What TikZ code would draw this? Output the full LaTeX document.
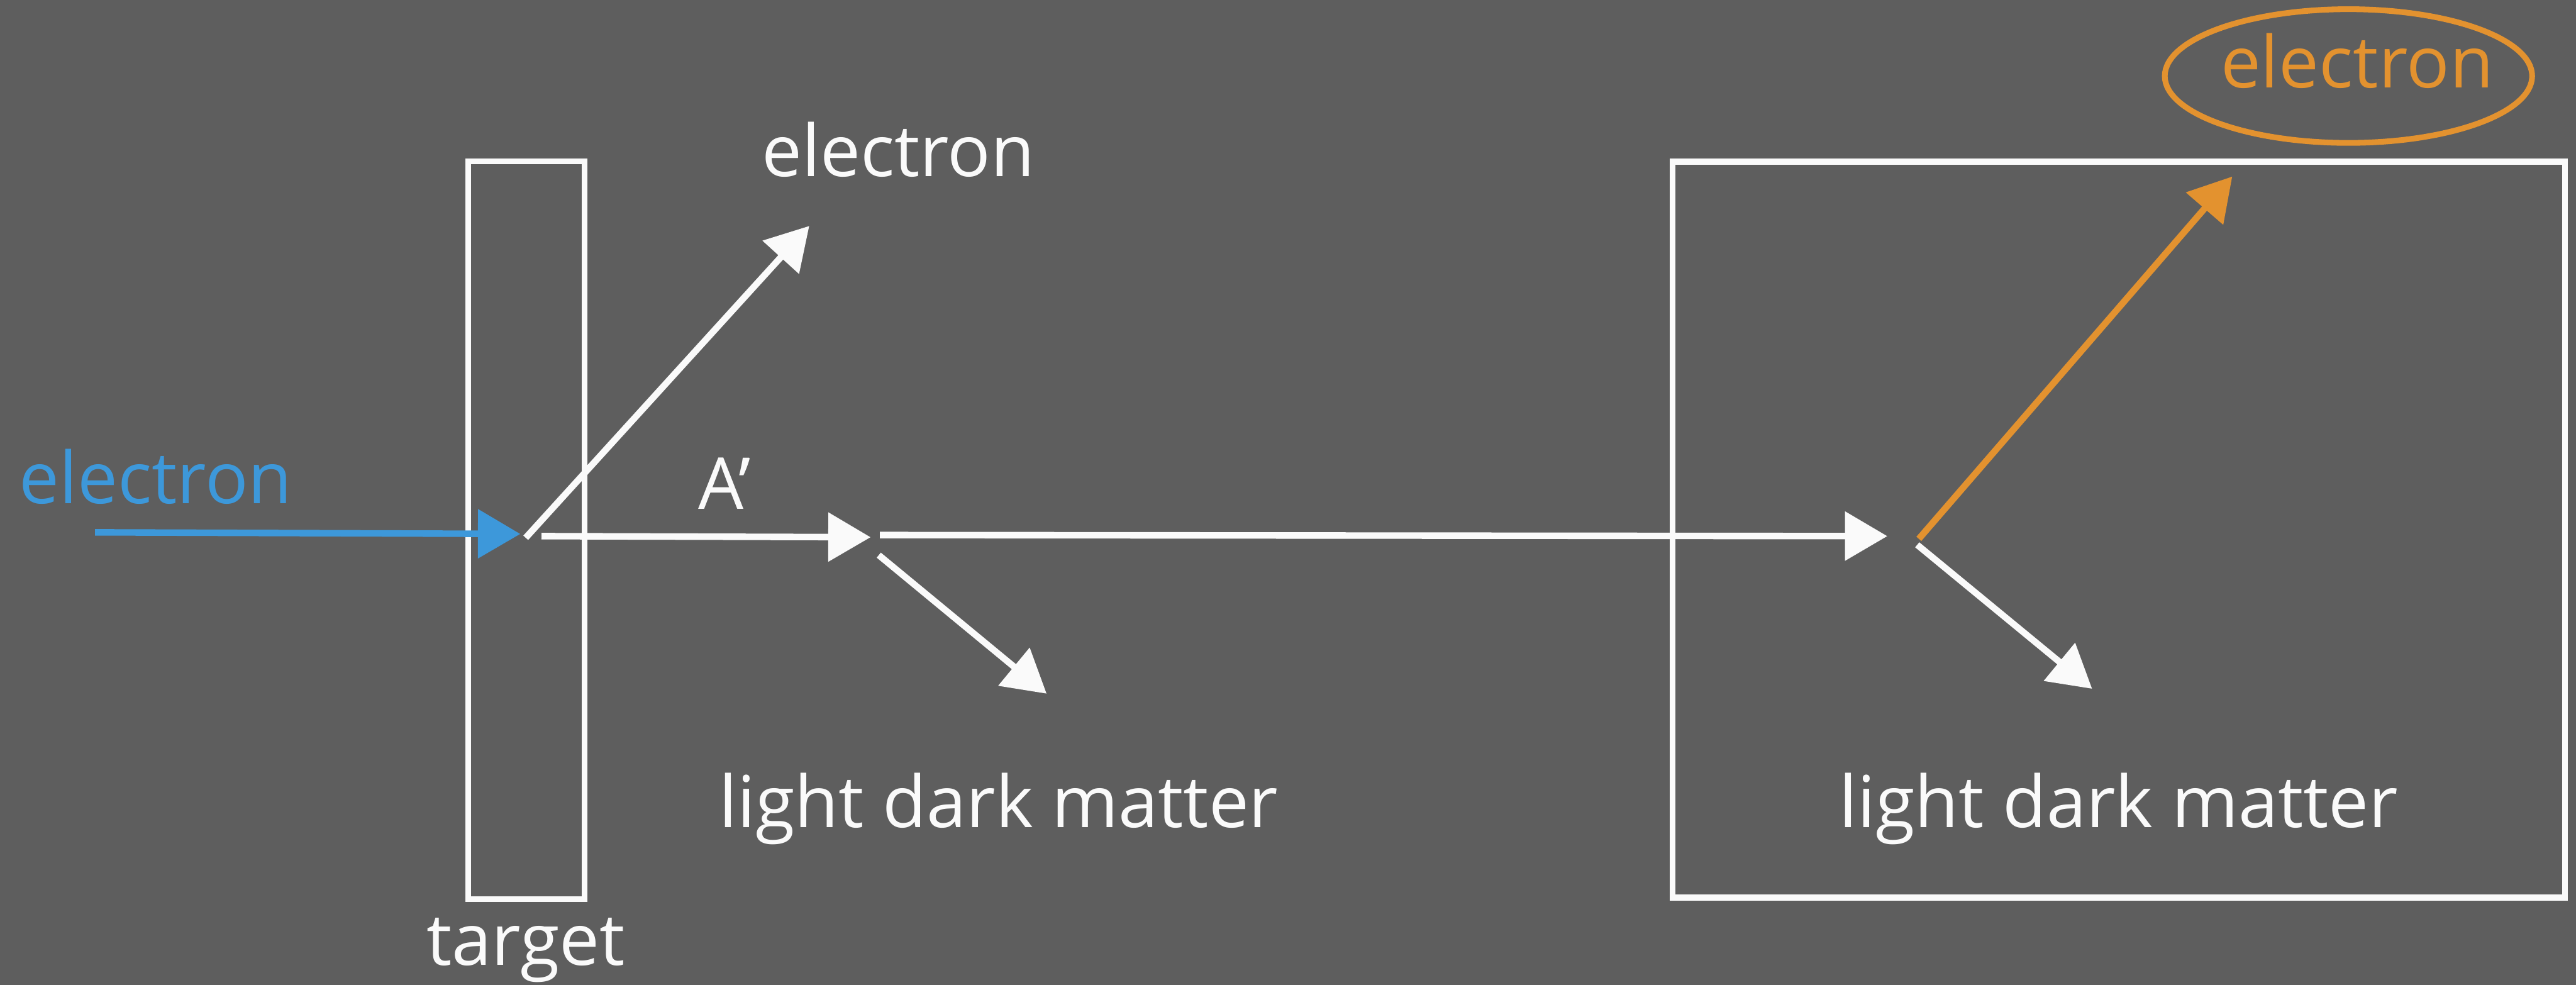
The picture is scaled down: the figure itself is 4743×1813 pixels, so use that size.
\documentclass[tikz,border=0pt]{standalone}
\usepackage{fontspec}
\setmainfont{Open Sans}
\usetikzlibrary{arrows.meta,shapes.geometric}
\definecolor{bg}{HTML}{5E5E5E}
\definecolor{chalkblue}{HTML}{3D98DA}
\definecolor{chalkorange}{HTML}{E3922F}
\definecolor{chalkwhite}{HTML}{FAFAFA}
\begin{document}
\begin{tikzpicture}[x=0.01cm,y=-0.01cm,
  lbl/.style={font=\fontsize{37.5}{44}\selectfont, text=chalkwhite, inner sep=0pt, anchor=base},
  conn/.style={draw=chalkwhite, line width=1.2mm, -{Triangle[length=0.78cm,width=0.88cm]}},
  frame/.style={draw=chalkwhite, line width=1.05mm, inner sep=0pt}]
\fill[bg] (0,0) rectangle (4743,1813);
\useasboundingbox (0,0) rectangle (4743,1813);

% frames
\node[frame, minimum width=2.14cm, minimum height=13.58cm] (target) at (969,976) {};
\node[frame, minimum width=16.42cm, minimum height=13.54cm] (detector) at (3901,975) {};
\node[draw=chalkorange, ellipse, line width=1.05mm, minimum width=6.76cm, minimum height=2.46cm] (eoutring) at (4324,140) {};

% labels
\node[lbl, text=chalkblue] (ein) at (287,927) {electron};
\node[lbl] (escat) at (1654,325) {electron};
\node[lbl] (aprime) at (1334,937) {A’};
\node[lbl] (ldmleft) at (1839,1523) {light dark matter};
\node[lbl] (ldmright) at (3901,1523) {light dark matter};
\node[lbl] (targetlbl) at (968,1777) {target};
\node[lbl, text=chalkorange] (eout) at (4340,161) {electron};

% connector end points
\coordinate (bstart) at (175,980);
\coordinate (btip) at (958,983);
\coordinate (vtx1) at (968,990);
\coordinate (escattip) at (1490,416);
\coordinate (astart) at (997,987);
\coordinate (atip) at (1603,989);
\coordinate (lstart) at (1620,985);
\coordinate (ltip) at (3475,987);
\coordinate (dmlstart) at (1618,1022);
\coordinate (dmltip) at (1927,1277);
\coordinate (ostart) at (3533,992);
\coordinate (otip) at (4110,325);
\coordinate (dmrstart) at (3530,1003);
\coordinate (dmrtip) at (3852,1268);

% connectors
\draw[conn, draw=chalkblue, fill=chalkblue] (bstart) -- (btip);
\draw[conn, fill=chalkwhite] (vtx1) -- (escattip);
\draw[conn, fill=chalkwhite] (astart) -- (atip);
\draw[conn, fill=chalkwhite] (lstart) -- (ltip);
\draw[conn, fill=chalkwhite] (dmlstart) -- (dmltip);
\draw[conn, draw=chalkorange, fill=chalkorange] (ostart) -- (otip);
\draw[conn, fill=chalkwhite] (dmrstart) -- (dmrtip);
\end{tikzpicture}
\end{document}
